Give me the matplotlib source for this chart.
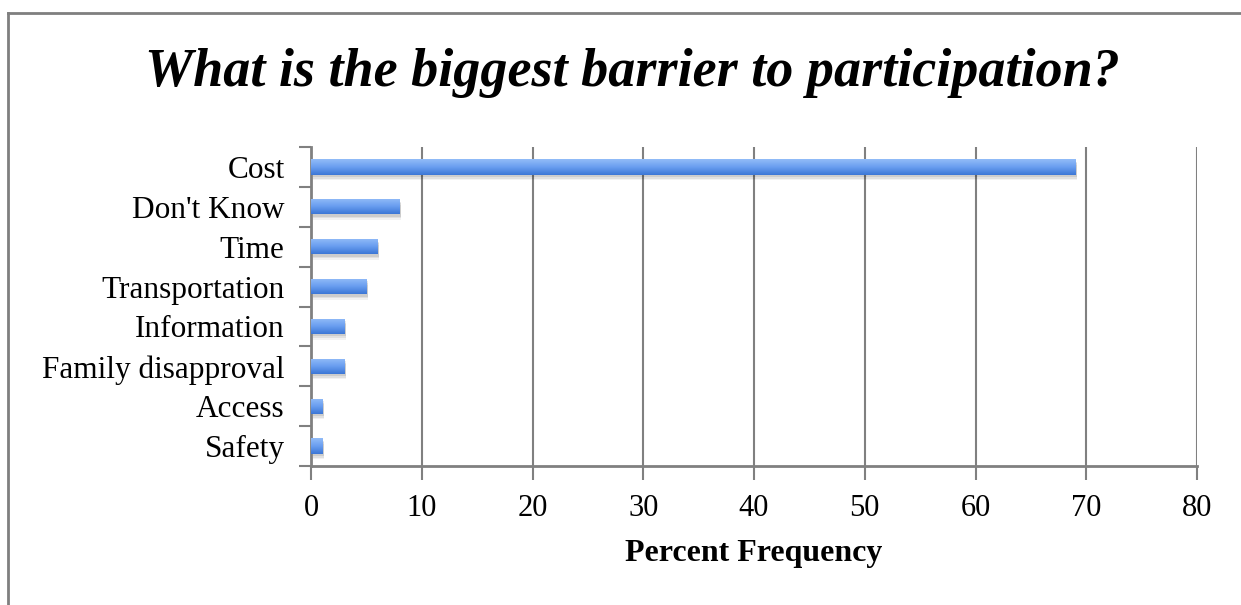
import numpy as np
import matplotlib
matplotlib.use("Agg")
import matplotlib.pyplot as plt
from matplotlib.lines import Line2D
from matplotlib.colors import LinearSegmentedColormap

categories = ["Cost", "Don't Know", "Time", "Transportation", "Information",
              "Family disapproval", "Access", "Safety"]
values = [69, 8, 6, 5, 3, 3, 1, 1]
xticks = [0, 10, 20, 30, 40, 50, 60, 70, 80]

plt.rcParams['font.family'] = ['Liberation Serif', 'DejaVu Serif']

fig = plt.figure(figsize=(12.41, 6.05), dpi=100)
W, H = 1241, 605
ax = fig.add_axes([311 / W, 1 - 466 / H, (1197 - 311) / W, (466 - 147) / H])

# outer frame (cut off at right and bottom like the reference)
fig.add_artist(Line2D([8 / W, 8 / W], [-0.1, 1 - 13 / H], color='#7f7f7f', lw=2))
fig.add_artist(Line2D([8 / W, 1.1], [1 - 13 / H, 1 - 13 / H], color='#7f7f7f', lw=2))

ypos = np.arange(len(categories))
bh = 0.38
grad = LinearSegmentedColormap.from_list('g', ['#92bcf8', '#6a9ef0', '#3b77d6'])

# soft shadow, a few faint layers
for off, a in [(0.06, 0.09), (0.10, 0.07), (0.14, 0.05)]:
    ax.barh(ypos + off, values, height=bh, left=0.15, color='#000000', alpha=a,
            zorder=2, linewidth=0)
bars = ax.barh(ypos, values, height=bh, color='#5b93ea', zorder=3, linewidth=0)
g = np.linspace(0, 1, 64).reshape(-1, 1)
for b in bars:
    x0, y0 = b.get_x(), b.get_y()
    w, h = b.get_width(), b.get_height()
    im = ax.imshow(g, cmap=grad, aspect='auto', extent=(x0, x0 + w, y0 + h, y0),
                   zorder=4, origin='upper')
    im.set_clip_path(b)

ax.set_xlim(0, 80)
ax.set_ylim(len(categories) - 0.5, -0.5)
ax.set_xticks(xticks)
ax.set_xticklabels([str(t) for t in xticks], fontsize=22)
ax.set_yticks(ypos)
ax.set_yticklabels(categories, fontsize=22.5)
ax.set_yticks(np.arange(-0.5, len(categories)), minor=True)
ax.tick_params(axis='y', which='major', length=0, pad=19)
ax.tick_params(axis='y', which='minor', length=9, width=1.5, color='#808080', direction='out')
ax.tick_params(axis='x', length=10, width=1.5, color='#808080', direction='out', pad=10)

ax.grid(axis='x', color='#808080', lw=1.5, zorder=1)
for s in ['top', 'right']:
    ax.spines[s].set_visible(False)
for s in ['left', 'bottom']:
    ax.spines[s].set_color('#808080')
    ax.spines[s].set_linewidth(2)

ax.set_xlabel('Percent Frequency', fontsize=23, fontweight='bold', labelpad=12)
fig.text(632 / W, 1 - 73 / H, 'What is the biggest barrier to participation?',
         fontsize=39, fontweight='bold', fontstyle='italic', ha='center', va='center')

fig.savefig('out.png', dpi=100)
